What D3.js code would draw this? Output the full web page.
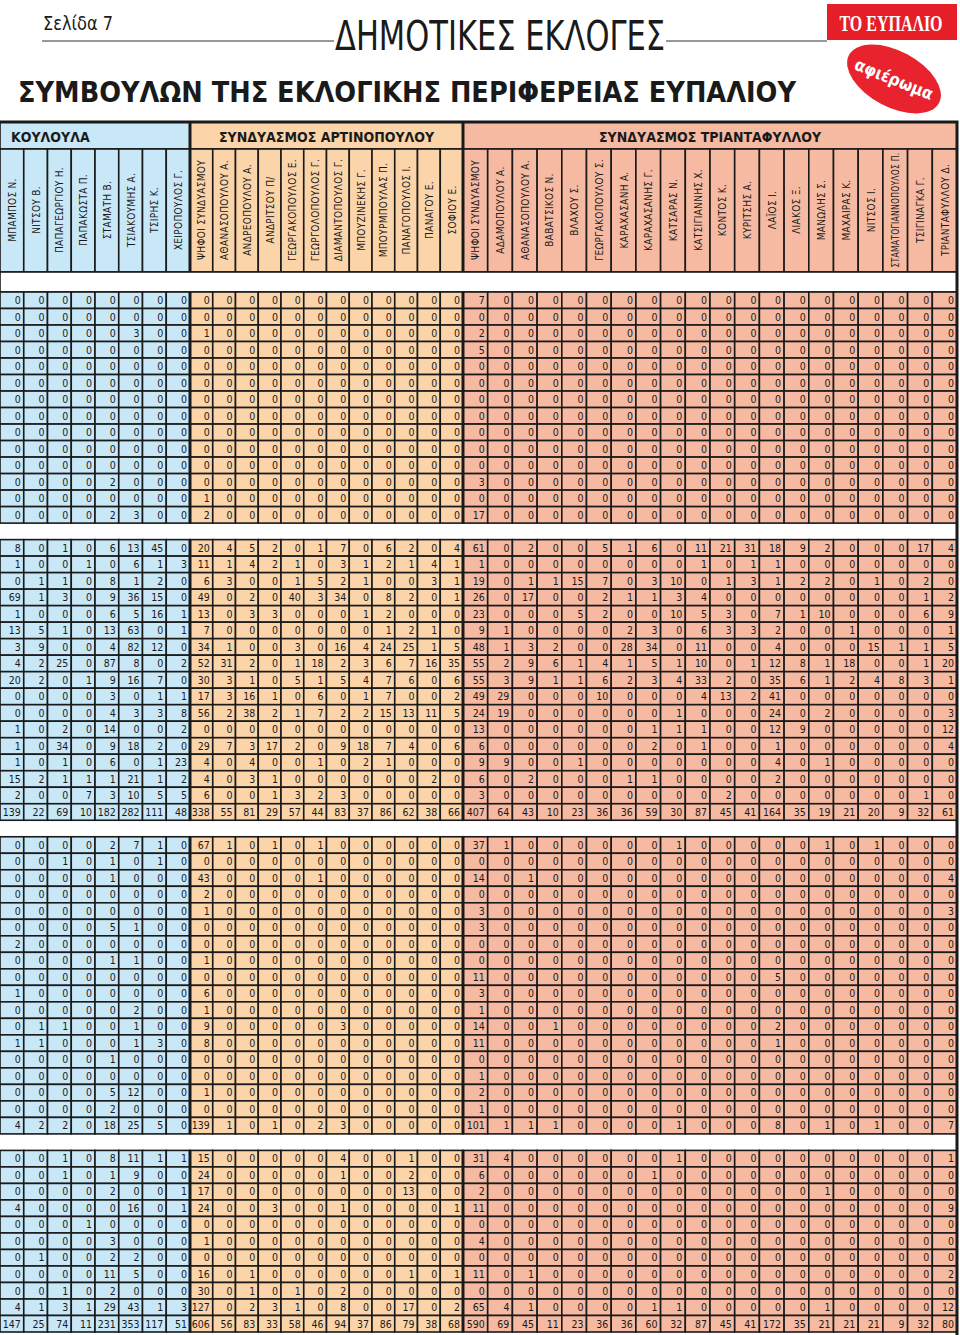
<!DOCTYPE html>
<html>
<head>
<meta charset="utf-8">
<script src="https://cdn.jsdelivr.net/npm/d3@7"></script>
<style>
  body { margin: 0; background: #fff; }
  svg text { fill: #1a1a1a; }
</style>
</head>
<body>
<script>
// Column headers per combination
const groupTitles = ["ΚΟΥΛΟΥΛΑ", "ΣΥΝΔΥΑΣΜΟΣ ΑΡΤΙΝΟΠΟΥΛΟΥ", "ΣΥΝΔΥΑΣΜΟΣ ΤΡΙΑΝΤΑΦΥΛΛΟΥ"];
const kouloulaNames = ["ΜΠΑΜΠΟΣ Ν.", "ΝΙΤΣΟΥ Β.", "ΠΑΠΑΓΕΩΡΓΙΟΥ Η.", "ΠΑΠΑΚΩΣΤΑ Π.", "ΣΤΑΜΑΤΗ Β.",
  "ΤΣΙΑΚΟΥΜΗΣ Α.", "ΤΣΙΡΗΣ Κ.", "ΧΕΙΡΟΠΟΥΛΟΣ Γ."];
const artinopoulouNames = ["ΨΗΦΟΙ ΣΥΝΔΥΑΣΜΟΥ", "ΑΘΑΝΑΣΟΠΟΥΛΟΥ Α.", "ΑΝΔΡΕΟΠΟΥΛΟΥ Α.", "ΑΝΔΡΙΤΣΟΥ Π/",
  "ΓΕΩΡΓΑΚΟΠΟΥΛΟΣ Ε.", "ΓΕΩΡΓΟΛΟΠΟΥΛΟΣ Γ.", "ΔΙΑΜΑΝΤΟΠΟΥΛΟΣ Γ.", "ΜΠΟΥΖΙΝΕΚΗΣ Γ.",
  "ΜΠΟΥΡΜΠΟΥΛΑΣ Π.", "ΠΑΝΑΓΟΠΟΥΛΟΣ Ι.", "ΠΑΝΑΓΟΥ Ε.", "ΣΟΦΙΟΥ Ε."];
const triantafyllouNames = ["ΨΗΦΟΙ ΣΥΝΔΥΑΣΜΟΥ", "ΑΔΑΜΟΠΟΥΛΟΥ Α.", "ΑΘΑΝΑΣΟΠΟΥΛΟΥ Α.", "ΒΑΒΑΤΣΙΚΟΣ Ν.",
  "ΒΛΑΧΟΥ Σ.", "ΓΕΩΡΓΑΚΟΠΟΥΛΟΥ Σ.", "ΚΑΡΑΧΑΣΑΝΗ Α.", "ΚΑΡΑΧΑΣΑΝΗΣ Γ.", "ΚΑΤΣΑΡΑΣ Ν.",
  "ΚΑΤΣΙΓΙΑΝΝΗΣ Χ.", "ΚΟΝΤΟΣ Κ.", "ΚΥΡΙΤΣΗΣ Α.", "ΛΑΪΟΣ Ι.", "ΛΙΑΚΟΣ Ξ.", "ΜΑΝΩΛΗΣ Σ.",
  "ΜΑΧΑΙΡΑΣ Κ.", "ΝΙΤΣΟΣ Ι.", "ΣΤΑΜΑΤΟΓΙΑΝΝΟΠΟΥΛΟΣ Π.", "ΤΣΙΓΙΝΑΓΚΑ Γ.", "ΤΡΙΑΝΤΑΦΥΛΛΟΥ Δ."];

// Votes, one row per polling station: 8 Κουλούλα | 12 Αρτινοπούλου | 20 Τριανταφύλλου
const block1 = [
  [0,0,0,0,0,0,0,0, 0,0,0,0,0,0,0,0,0,0,0,0, 7,0,0,0,0,0,0,0,0,0,0,0,0,0,0,0,0,0,0,0],
  [0,0,0,0,0,0,0,0, 0,0,0,0,0,0,0,0,0,0,0,0, 0,0,0,0,0,0,0,0,0,0,0,0,0,0,0,0,0,0,0,0],
  [0,0,0,0,0,3,0,0, 1,0,0,0,0,0,0,0,0,0,0,0, 2,0,0,0,0,0,0,0,0,0,0,0,0,0,0,0,0,0,0,0],
  [0,0,0,0,0,0,0,0, 0,0,0,0,0,0,0,0,0,0,0,0, 5,0,0,0,0,0,0,0,0,0,0,0,0,0,0,0,0,0,0,0],
  [0,0,0,0,0,0,0,0, 0,0,0,0,0,0,0,0,0,0,0,0, 0,0,0,0,0,0,0,0,0,0,0,0,0,0,0,0,0,0,0,0],
  [0,0,0,0,0,0,0,0, 0,0,0,0,0,0,0,0,0,0,0,0, 0,0,0,0,0,0,0,0,0,0,0,0,0,0,0,0,0,0,0,0],
  [0,0,0,0,0,0,0,0, 0,0,0,0,0,0,0,0,0,0,0,0, 0,0,0,0,0,0,0,0,0,0,0,0,0,0,0,0,0,0,0,0],
  [0,0,0,0,0,0,0,0, 0,0,0,0,0,0,0,0,0,0,0,0, 0,0,0,0,0,0,0,0,0,0,0,0,0,0,0,0,0,0,0,0],
  [0,0,0,0,0,0,0,0, 0,0,0,0,0,0,0,0,0,0,0,0, 0,0,0,0,0,0,0,0,0,0,0,0,0,0,0,0,0,0,0,0],
  [0,0,0,0,0,0,0,0, 0,0,0,0,0,0,0,0,0,0,0,0, 0,0,0,0,0,0,0,0,0,0,0,0,0,0,0,0,0,0,0,0],
  [0,0,0,0,0,0,0,0, 0,0,0,0,0,0,0,0,0,0,0,0, 0,0,0,0,0,0,0,0,0,0,0,0,0,0,0,0,0,0,0,0],
  [0,0,0,0,2,0,0,0, 0,0,0,0,0,0,0,0,0,0,0,0, 3,0,0,0,0,0,0,0,0,0,0,0,0,0,0,0,0,0,0,0],
  [0,0,0,0,0,0,0,0, 1,0,0,0,0,0,0,0,0,0,0,0, 0,0,0,0,0,0,0,0,0,0,0,0,0,0,0,0,0,0,0,0],
  [0,0,0,0,2,3,0,0, 2,0,0,0,0,0,0,0,0,0,0,0, 17,0,0,0,0,0,0,0,0,0,0,0,0,0,0,0,0,0,0,0]
];

const block2 = [
  [8,0,1,0,6,13,45,0, 20,4,5,2,0,1,7,0,6,2,0,4, 61,0,2,0,0,5,1,6,0,11,21,31,18,9,2,0,0,0,17,4],
  [1,0,0,1,0,6,1,3, 11,1,4,2,1,0,3,1,2,1,4,1, 1,0,0,0,0,0,0,0,0,1,0,1,1,0,0,0,0,0,0,0],
  [0,1,1,0,8,1,2,0, 6,3,0,0,1,5,2,1,0,0,3,1, 19,0,1,1,15,7,0,3,10,0,1,3,1,2,2,0,1,0,2,0],
  [69,1,3,0,9,36,15,0, 49,0,2,0,40,3,34,0,8,2,0,1, 26,0,17,0,0,2,1,1,3,4,0,0,0,0,0,0,0,0,1,2],
  [1,0,0,0,6,5,16,1, 13,0,3,3,0,0,0,1,2,0,0,0, 23,0,0,0,5,2,0,0,10,5,3,0,7,1,10,0,0,0,6,9],
  [13,5,1,0,13,63,0,1, 7,0,0,0,0,0,0,0,1,2,1,0, 9,1,0,0,0,0,2,3,0,6,3,3,2,0,0,1,0,0,0,1],
  [3,9,0,0,4,82,12,0, 34,1,0,0,3,0,16,4,24,25,1,5, 48,1,3,2,0,0,28,34,0,11,0,0,4,0,0,0,15,1,1,5],
  [4,2,25,0,87,8,0,2, 52,31,2,0,1,18,2,3,6,7,16,35, 55,2,9,6,1,4,1,5,1,10,0,1,12,8,1,18,0,0,1,20],
  [20,2,0,1,9,16,7,0, 30,3,1,0,5,1,5,4,7,6,0,6, 55,3,9,1,1,6,2,3,4,33,2,0,35,6,1,2,4,8,3,1],
  [0,0,0,0,3,0,1,1, 17,3,16,1,0,6,0,1,7,0,0,2, 49,29,0,0,0,10,0,0,0,4,13,2,41,0,0,0,0,0,0,0],
  [0,0,0,0,4,3,3,8, 56,2,38,2,1,7,2,2,15,13,11,5, 24,19,0,0,0,0,0,0,1,0,0,0,24,0,2,0,0,0,0,3],
  [1,0,2,0,14,0,0,2, 0,0,0,0,0,0,0,0,0,0,0,0, 13,0,0,0,0,0,0,1,1,1,0,0,12,9,0,0,0,0,0,12],
  [1,0,34,0,9,18,2,0, 29,7,3,17,2,0,9,18,7,4,0,6, 6,0,0,0,0,0,0,2,0,1,0,0,1,0,0,0,0,0,0,4],
  [1,0,1,0,6,0,1,23, 4,0,4,0,0,1,0,2,1,0,0,0, 9,9,0,0,1,0,0,0,0,0,0,0,4,0,1,0,0,0,0,0],
  [15,2,1,1,1,21,1,2, 4,0,3,1,0,0,0,0,0,0,2,0, 6,0,2,0,0,0,1,1,0,0,0,0,2,0,0,0,0,0,0,0],
  [2,0,0,7,3,10,5,5, 6,0,0,1,3,2,3,0,0,0,0,0, 3,0,0,0,0,0,0,0,0,0,2,0,0,0,0,0,0,0,1,0],
  [139,22,69,10,182,282,111,48, 338,55,81,29,57,44,83,37,86,62,38,66, 407,64,43,10,23,36,36,59,30,87,45,41,164,35,19,21,20,9,32,61]
];

const block3 = [
  [0,0,0,0,2,7,1,0, 67,1,0,1,0,1,0,0,0,0,0,0, 37,1,0,0,0,0,0,0,1,0,0,0,0,0,1,0,1,0,0,0],
  [0,0,1,0,1,0,1,0, 0,0,0,0,0,0,0,0,0,0,0,0, 0,0,0,0,0,0,0,0,0,0,0,0,0,0,0,0,0,0,0,0],
  [0,0,0,0,1,0,0,0, 43,0,0,0,0,1,0,0,0,0,0,0, 14,0,1,0,0,0,0,0,0,0,0,0,0,0,0,0,0,0,0,4],
  [0,0,0,0,0,0,0,0, 2,0,0,0,0,0,0,0,0,0,0,0, 0,0,0,0,0,0,0,0,0,0,0,0,0,0,0,0,0,0,0,0],
  [0,0,0,0,0,0,0,0, 1,0,0,0,0,0,0,0,0,0,0,0, 3,0,0,0,0,0,0,0,0,0,0,0,0,0,0,0,0,0,0,3],
  [0,0,0,0,5,1,0,0, 0,0,0,0,0,0,0,0,0,0,0,0, 3,0,0,0,0,0,0,0,0,0,0,0,0,0,0,0,0,0,0,0],
  [2,0,0,0,0,0,0,0, 0,0,0,0,0,0,0,0,0,0,0,0, 0,0,0,0,0,0,0,0,0,0,0,0,0,0,0,0,0,0,0,0],
  [0,0,0,0,1,1,0,0, 1,0,0,0,0,0,0,0,0,0,0,0, 0,0,0,0,0,0,0,0,0,0,0,0,0,0,0,0,0,0,0,0],
  [0,0,0,0,0,0,0,0, 0,0,0,0,0,0,0,0,0,0,0,0, 11,0,0,0,0,0,0,0,0,0,0,0,5,0,0,0,0,0,0,0],
  [1,0,0,0,0,0,0,0, 6,0,0,0,0,0,0,0,0,0,0,0, 3,0,0,0,0,0,0,0,0,0,0,0,0,0,0,0,0,0,0,0],
  [0,0,0,0,0,2,0,0, 1,0,0,0,0,0,0,0,0,0,0,0, 1,0,0,0,0,0,0,0,0,0,0,0,0,0,0,0,0,0,0,0],
  [0,1,1,0,0,1,0,0, 9,0,0,0,0,0,3,0,0,0,0,0, 14,0,0,1,0,0,0,0,0,0,0,0,2,0,0,0,0,0,0,0],
  [1,1,0,0,0,1,3,0, 8,0,0,0,0,0,0,0,0,0,0,0, 11,0,0,0,0,0,0,0,0,0,0,0,1,0,0,0,0,0,0,0],
  [0,0,0,0,1,0,0,0, 0,0,0,0,0,0,0,0,0,0,0,0, 0,0,0,0,0,0,0,0,0,0,0,0,0,0,0,0,0,0,0,0],
  [0,0,0,0,0,0,0,0, 0,0,0,0,0,0,0,0,0,0,0,0, 1,0,0,0,0,0,0,0,0,0,0,0,0,0,0,0,0,0,0,0],
  [0,0,0,0,5,12,0,0, 1,0,0,0,0,0,0,0,0,0,0,0, 2,0,0,0,0,0,0,0,0,0,0,0,0,0,0,0,0,0,0,0],
  [0,0,0,0,2,0,0,0, 0,0,0,0,0,0,0,0,0,0,0,0, 1,0,0,0,0,0,0,0,0,0,0,0,0,0,0,0,0,0,0,0],
  [4,2,2,0,18,25,5,0, 139,1,0,1,0,2,3,0,0,0,0,0, 101,1,1,1,0,0,0,0,1,0,0,0,8,0,1,0,1,0,0,7]
];

const block4 = [
  [0,0,1,0,8,11,1,1, 15,0,0,0,0,0,4,0,0,1,0,0, 31,4,0,0,0,0,0,0,1,0,0,0,0,0,0,0,0,0,0,1],
  [0,0,1,0,1,9,0,0, 24,0,0,0,0,0,1,0,0,2,0,0, 6,0,0,0,0,0,0,1,0,0,0,0,0,0,0,0,0,0,0,0],
  [0,0,0,0,2,0,0,1, 17,0,0,0,0,0,0,0,0,13,0,0, 2,0,0,0,0,0,0,0,0,0,0,0,0,0,1,0,0,0,0,0],
  [4,0,0,0,0,16,0,1, 24,0,0,3,0,0,1,0,0,0,0,1, 11,0,0,0,0,0,0,0,0,0,0,0,0,0,0,0,0,0,0,9],
  [0,0,0,1,0,0,0,0, 0,0,0,0,0,0,0,0,0,0,0,0, 0,0,0,0,0,0,0,0,0,0,0,0,0,0,0,0,0,0,0,0],
  [0,0,0,0,3,0,0,0, 1,0,0,0,0,0,0,0,0,0,0,0, 4,0,0,0,0,0,0,0,0,0,0,0,0,0,0,0,0,0,0,0],
  [0,1,0,0,2,2,0,0, 0,0,0,0,0,0,0,0,0,0,0,0, 0,0,0,0,0,0,0,0,0,0,0,0,0,0,0,0,0,0,0,0],
  [0,0,0,0,11,5,0,0, 16,0,1,0,0,0,0,0,0,1,0,1, 11,0,1,0,0,0,0,0,0,0,0,0,0,0,0,0,0,0,0,2],
  [0,0,1,0,2,0,0,0, 30,0,1,0,1,0,2,0,0,0,0,0, 0,0,0,0,0,0,0,0,0,0,0,0,0,0,0,0,0,0,0,0],
  [4,1,3,1,29,43,1,3, 127,0,2,3,1,0,8,0,0,17,0,2, 65,4,1,0,0,0,0,1,1,0,0,0,0,0,1,0,0,0,0,12],
  [147,25,74,11,231,353,117,51, 606,56,83,33,58,46,94,37,86,79,38,68, 590,69,45,11,23,36,36,60,32,87,45,41,172,35,21,21,21,9,32,80]
];

const blocks = [block1, block2, block3, block4];

// layout
const width = 960;
const height = 1335;
const tableTop = 122;
const groupRowBottom = 149;
const namesBottom = 272;
const dataTop = 292;
const dataBottom = 1332;
const tableRight = 957;
const groupColors = ["#c8e7f7", "#fbd4a9", "#f6b9a1"];
const lineColor = "#1a1a1a";

const svg = d3.select("body").append("svg")
  .attr("width", width)
  .attr("height", height);

// ---- page header ----
const head = svg.append("g").attr("class", "page-head");

head.append("text")
  .attr("x", 43).attr("y", 30)
  .attr("textLength", 70).attr("lengthAdjust", "spacingAndGlyphs")
  .style("font-family", "'Liberation Sans Narrow', 'DejaVu Sans Condensed', sans-serif")
  .style("font-size", "19px")
  .text("Σελίδα  7");

head.append("text")
  .attr("x", 500).attr("y", 50)
  .attr("text-anchor", "middle")
  .attr("textLength", 330).attr("lengthAdjust", "spacingAndGlyphs")
  .style("font-family", "'Liberation Sans Narrow', 'DejaVu Sans Condensed', sans-serif")
  .style("font-size", "41px")
  .text("ΔΗΜΟΤΙΚΕΣ ΕΚΛΟΓΕΣ");

head.selectAll("line.rule")
  .data([[42, 334], [666, 827]])
  .enter().append("line")
    .attr("class", "rule")
    .attr("x1", d => d[0]).attr("x2", d => d[1])
    .attr("y1", 41).attr("y2", 41)
    .attr("stroke", "#333").attr("stroke-width", 1.2);

head.append("rect")
  .attr("x", 827).attr("y", 4)
  .attr("width", 130).attr("height", 36)
  .attr("fill", "#e61e28");

// masthead: narrow serif, stretched upwards to stay inside the box
head.append("g")
  .attr("transform", "translate(891,31) scale(1,1.45)")
  .append("text")
    .attr("text-anchor", "middle")
    .style("font-family", "'Liberation Serif', 'DejaVu Serif', serif")
    .style("font-weight", "bold")
    .style("font-size", "16px")
    .style("fill", "#fff")
    .text("ΤΟ ΕΥΠΑΛΙΟ");

const badge = head.append("g")
  .attr("transform", "translate(894,79) rotate(28)");

badge.append("ellipse")
  .attr("rx", 51).attr("ry", 28)
  .attr("fill", "#e8232d");

badge.append("text")
  .attr("y", 6)
  .attr("text-anchor", "middle")
  .attr("transform", "rotate(-6)")
  .style("font-family", "'DejaVu Sans Condensed', sans-serif")
  .style("font-weight", "bold")
  .style("font-size", "17px")
  .style("fill", "#fff")
  .text("αφιέρωμα");

head.append("text")
  .attr("x", 18).attr("y", 102)
  .attr("textLength", 778).attr("lengthAdjust", "spacingAndGlyphs")
  .style("font-family", "'DejaVu Sans Condensed', 'Liberation Sans Narrow', sans-serif")
  .style("font-weight", "bold")
  .style("font-size", "28px")
  .text("ΣΥΜΒΟΥΛΩΝ ΤΗΣ ΕΚΛΟΓΙΚΗΣ ΠΕΡΙΦΕΡΕΙΑΣ ΕΥΠΑΛΙΟΥ");

// ---- column scales, one per combination ----
const groupScales = [
  d3.scaleBand().domain(kouloulaNames).range([0, 190]),
  d3.scaleBand().domain(artinopoulouNames).range([190, 463]),
  d3.scaleBand().domain(triantafyllouNames).range([463, tableRight])
];

const columns = [kouloulaNames, artinopoulouNames, triantafyllouNames]
  .flatMap((names, g) => names.map(name => ({ name, g, scale: groupScales[g] })));

// rows of all blocks, with a spacer key between blocks
const rowKeys = [];
blocks.forEach((b, bi) => {
  b.forEach((r, ri) => rowKeys.push(`b${bi}-${ri}`));
  if (bi < blocks.length - 1) rowKeys.push(`gap${bi}`);
});

const y = d3.scaleBand()
  .domain(rowKeys)
  .range([dataTop, dataBottom]);

// ---- group header row ----
const groupRow = svg.append("g").attr("class", "group-row");

groupRow.selectAll("rect")
  .data(groupScales)
  .enter().append("rect")
    .attr("x", d => d.range()[0])
    .attr("y", tableTop)
    .attr("width", d => d.range()[1] - d.range()[0])
    .attr("height", groupRowBottom - tableTop)
    .attr("fill", (d, i) => groupColors[i])
    .attr("stroke", lineColor).attr("stroke-width", 1.6);

groupRow.selectAll("text")
  .data(groupTitles)
  .enter().append("text")
    .attr("x", (d, i) => i === 0 ? 11 : (groupScales[i].range()[0] + groupScales[i].range()[1]) / 2)
    .attr("y", 142)
    .attr("text-anchor", (d, i) => i === 0 ? "start" : "middle")
    .style("font-family", "'DejaVu Sans Condensed', sans-serif")
    .style("font-weight", "bold")
    .style("font-size", "14px")
    .text(d => d);

// ---- candidate names row ----
const namesRow = svg.append("g").attr("class", "names-row");

namesRow.selectAll("rect")
  .data(columns)
  .enter().append("rect")
    .attr("x", d => d.scale(d.name))
    .attr("y", groupRowBottom)
    .attr("width", d => d.scale.bandwidth())
    .attr("height", namesBottom - groupRowBottom)
    .attr("fill", d => groupColors[d.g])
    .attr("stroke", lineColor).attr("stroke-width", 1.6);

namesRow.selectAll("text")
  .data(columns)
  .enter().append("text")
    .attr("transform", d => `translate(${d.scale(d.name) + d.scale.bandwidth() / 2 + 4},210) rotate(-90)`)
    .attr("text-anchor", "middle")
    .style("font-family", "'DejaVu Sans Condensed', sans-serif")
    .style("font-size", "10px")
    .style("letter-spacing", "0.3px")
    .text(d => d.name)
    .each(function() {
      // squeeze the longest names to the height of the row
      if (this.getComputedTextLength() > 115) {
        d3.select(this).attr("textLength", 115).attr("lengthAdjust", "spacingAndGlyphs");
      }
    });

// white spacer under the names
svg.append("rect")
  .attr("x", 0).attr("y", namesBottom)
  .attr("width", tableRight).attr("height", dataTop - namesBottom)
  .attr("fill", "#fff")
  .attr("stroke", lineColor).attr("stroke-width", 1.6);

// ---- data blocks ----
const cells = [];
blocks.forEach((b, bi) => {
  b.forEach((row, ri) => {
    row.forEach((v, ci) => cells.push({ key: `b${bi}-${ri}`, col: columns[ci], value: v }));
  });
});

const body = svg.append("g").attr("class", "cells");

body.selectAll("rect")
  .data(cells)
  .enter().append("rect")
    .attr("x", d => d.col.scale(d.col.name))
    .attr("y", d => y(d.key))
    .attr("width", d => d.col.scale.bandwidth())
    .attr("height", y.bandwidth())
    .attr("fill", d => groupColors[d.col.g])
    .attr("stroke", lineColor).attr("stroke-width", 1.6);

body.selectAll("text")
  .data(cells)
  .enter().append("text")
    .attr("x", d => d.col.scale(d.col.name) + d.col.scale.bandwidth() - 3)
    .attr("y", d => y(d.key) + y.bandwidth() / 2)
    .attr("dy", "0.36em")
    .attr("text-anchor", "end")
    .style("font-family", "'DejaVu Sans Condensed', sans-serif")
    .style("font-size", "10.5px")
    .text(d => d.value);

// thick separators between the combinations, per block and in the header
const spans = [[tableTop, namesBottom]].concat(blocks.map((b, bi) =>
  [y(`b${bi}-0`), y(`b${bi}-${b.length - 1}`) + y.bandwidth()]));

svg.append("g").attr("class", "separators")
  .selectAll("line")
  .data(spans.flatMap(s => [190, 463].map(x => ({ x, s }))))
  .enter().append("line")
    .attr("x1", d => d.x).attr("x2", d => d.x)
    .attr("y1", d => d.s[0]).attr("y2", d => d.s[1])
    .attr("stroke", lineColor).attr("stroke-width", 3);

// outer frame (top and right)
svg.append("path")
  .attr("d", `M0,${tableTop}H${tableRight}V${height}`)
  .attr("fill", "none")
  .attr("stroke", lineColor).attr("stroke-width", 3);
</script>
</body>
</html>
